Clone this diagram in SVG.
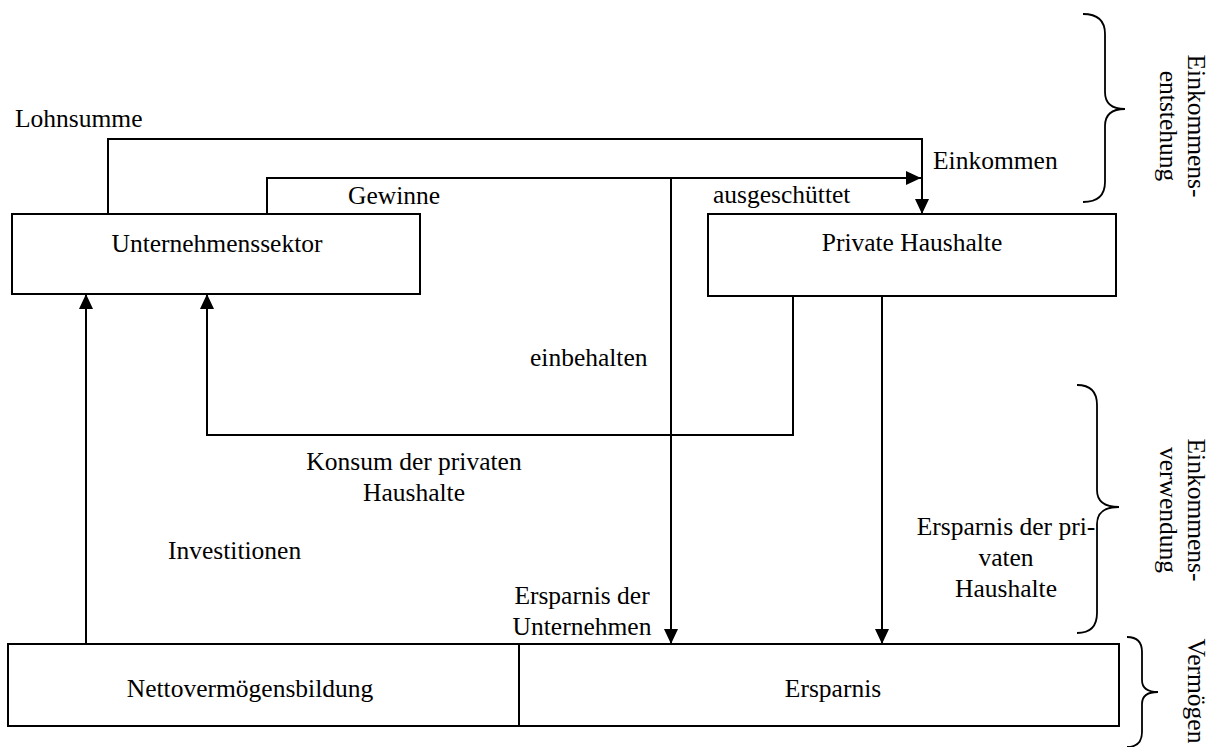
<svg xmlns="http://www.w3.org/2000/svg" width="1221" height="747" viewBox="0 0 1221 747">
<style>
text{font-size:25.5px;fill:#000}
.m{text-anchor:middle}
.box{fill:#fff;stroke:#000;stroke-width:2}
.ln{fill:none;stroke:#000;stroke-width:2}
.br{fill:none;stroke:#000;stroke-width:1.8}
</style>
<defs>
<marker id="ah" viewBox="0 0 15 14" refX="15" refY="7" markerWidth="15" markerHeight="14" markerUnits="userSpaceOnUse" orient="auto">
<path d="M0,0 L15,7 L0,14 Z" fill="#000"/>
</marker>
</defs>
<rect width="1221" height="747" fill="#fff"/>
<g font-family="'Liberation Serif', 'Times New Roman', Tinos, 'DejaVu Serif', serif">
<g id="connectors">
<path class="ln" d="M108,214 V139 H922 V214" marker-end="url(#ah)"/>
<path class="ln" d="M267,214 V178 H921" marker-end="url(#ah)"/>
<path class="ln" d="M671,178 V644" marker-end="url(#ah)"/>
<path class="ln" d="M793,296 V435 H207 V294" marker-end="url(#ah)"/>
<path class="ln" d="M882,296 V644" marker-end="url(#ah)"/>
<path class="ln" d="M86,644 V294" marker-end="url(#ah)"/>
<text x="15" y="127">Lohnsumme</text>
<text x="933" y="169">Einkommen</text>
<text x="348" y="204">Gewinne</text>
<text x="713" y="203">ausgeschüttet</text>
<text x="530" y="366">einbehalten</text>
<text class="m" x="414" y="470">Konsum der privaten</text>
<text class="m" x="414" y="501">Haushalte</text>
<text x="168" y="559">Investitionen</text>
<text class="m" x="582" y="604">Ersparnis der</text>
<text class="m" x="582" y="635">Unternehmen</text>
<text class="m" x="1006" y="535">Ersparnis der pri-</text>
<text class="m" x="1006" y="566">vaten</text>
<text class="m" x="1006" y="597">Haushalte</text>
</g>
<g id="unternehmenssektor">
<rect class="box" x="12" y="214" width="408" height="80"/>
<text class="m" x="217" y="252">Unternehmenssektor</text>
</g>
<g id="private-haushalte">
<rect class="box" x="708" y="214" width="408" height="82"/>
<text class="m" x="912" y="251">Private Haushalte</text>
</g>
<g id="vermoegen-box">
<rect class="box" x="8" y="644" width="1111" height="82"/>
<line class="ln" x1="519" y1="644" x2="519" y2="726"/>
<text class="m" x="250" y="697">Nettovermögensbildung</text>
<text class="m" x="833" y="697">Ersparnis</text>
</g>
<g id="brace-entstehung">
<path class="br" d="M1083,14 Q1105,14 1105,34 V92 Q1105,109 1125,109 Q1105,109 1105,126 V182 Q1105,202 1083,202"/>
<text class="m" transform="translate(1188,126) rotate(90)">Einkommens-</text>
<text class="m" transform="translate(1160,126) rotate(90)">entstehung</text>
</g>
<g id="brace-verwendung">
<path class="br" d="M1077,385 Q1097,385 1097,405 V490 Q1097,507 1119,507 Q1097,507 1097,524 V613 Q1097,633 1077,633"/>
<text class="m" transform="translate(1188,510) rotate(90)">Einkommens-</text>
<text class="m" transform="translate(1160,510) rotate(90)">verwendung</text>
</g>
<g id="brace-vermoegen">
<path class="br" d="M1127,637 Q1142,637 1142,652 V680 Q1142,692 1158,692 Q1142,692 1142,704 V732 Q1142,747 1127,747"/>
<text class="m" transform="translate(1188,691) rotate(90)">Vermögen</text>
</g>
</g>
</svg>
